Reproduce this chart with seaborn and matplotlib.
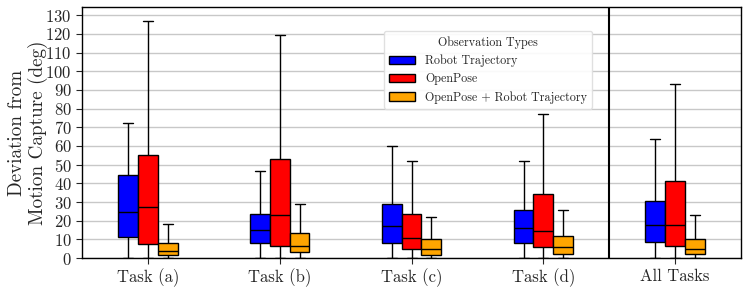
import numpy as np
import pandas as pd
import matplotlib
matplotlib.use("Agg")
import matplotlib.pyplot as plt
import seaborn as sns

# five numbers per box: min, q1, median, q3, max (whiskers span min..max)
tasks = ["Task (a)", "Task (b)", "Task (c)", "Task (d)", "All Tasks"]
obs_types = ["Robot Trajectory", "OpenPose", "OpenPose + Robot Trajectory"]

robot_traj = [
    [0, 11.5, 24.9, 44.5, 72.4],
    [0, 7.9, 15.2, 23.6, 46.6],
    [0, 7.9, 17.0, 28.8, 59.9],
    [0, 7.9, 16.1, 25.6, 52.0],
    [0, 8.8, 17.9, 30.8, 63.8],
]
openpose = [
    [0, 7.5, 27.2, 55.2, 126.8],
    [0, 6.4, 23.3, 52.9, 119.2],
    [0, 5.0, 10.9, 23.8, 52.0],
    [0, 5.9, 14.7, 34.5, 77.1],
    [0, 6.3, 17.7, 41.1, 93.1],
]
combined = [
    [0, 1.8, 3.8, 8.0, 18.1],
    [0, 3.2, 6.6, 13.6, 29.0],
    [0, 1.8, 5.0, 10.0, 22.0],
    [0, 2.4, 5.9, 11.8, 25.6],
    [0, 2.1, 5.0, 10.4, 22.9],
]

rows = []
for name, series in zip(obs_types, [robot_traj, openpose, combined]):
    for task, vals in zip(tasks, series):
        for v in vals:
            rows.append({"Task": task, "Observation Types": name, "Deviation": v})
df = pd.DataFrame(rows)

sns.set_style("ticks")
plt.rcParams["font.family"] = ["cmr10", "DejaVu Serif"]
plt.rcParams["mathtext.fontset"] = "cm"
plt.rcParams["axes.formatter.use_mathtext"] = True

fig, ax = plt.subplots(figsize=(7.47, 2.89), dpi=100)
fig.subplots_adjust(left=0.11, right=0.992, bottom=0.107, top=0.976)

ax.yaxis.grid(True, color="#c8c8c8", linewidth=1.0)
ax.set_axisbelow(True)

sns.boxplot(data=df, x="Task", y="Deviation", hue="Observation Types",
            order=tasks, hue_order=obs_types,
            palette=["#0000ff", "#ff0000", "#ffa500"], saturation=1,
            width=0.45, gap=0, whis=(0, 100), linecolor="black",
            linewidth=1.0, ax=ax)

ax.axvline(3.5, color="black", linewidth=1.5)
ax.set_xlim(-0.5, 4.5)
ax.set_ylim(0, 134.4)
ax.set_yticks(np.arange(0, 131, 10))
ax.set_xlabel("")
ax.set_ylabel("Deviation from\nMotion Capture (deg)", fontsize=13.8, linespacing=1.1)
ax.yaxis.set_label_coords(-0.052, 0.5)
ax.tick_params(axis="both", labelsize=12, width=0.8, length=4)
for s in ax.spines.values():
    s.set_color("black")
    s.set_linewidth(1.0)

ax.legend(title="Observation Types", loc="upper left",
          bbox_to_anchor=(0.449, 0.928), fontsize=8.7, title_fontsize=8.7,
          frameon=True, fancybox=True, framealpha=0.9, edgecolor="#dddddd",
          handlelength=2.2, borderpad=0.4, labelspacing=0.5)

fig.savefig("out.png", dpi=100)
